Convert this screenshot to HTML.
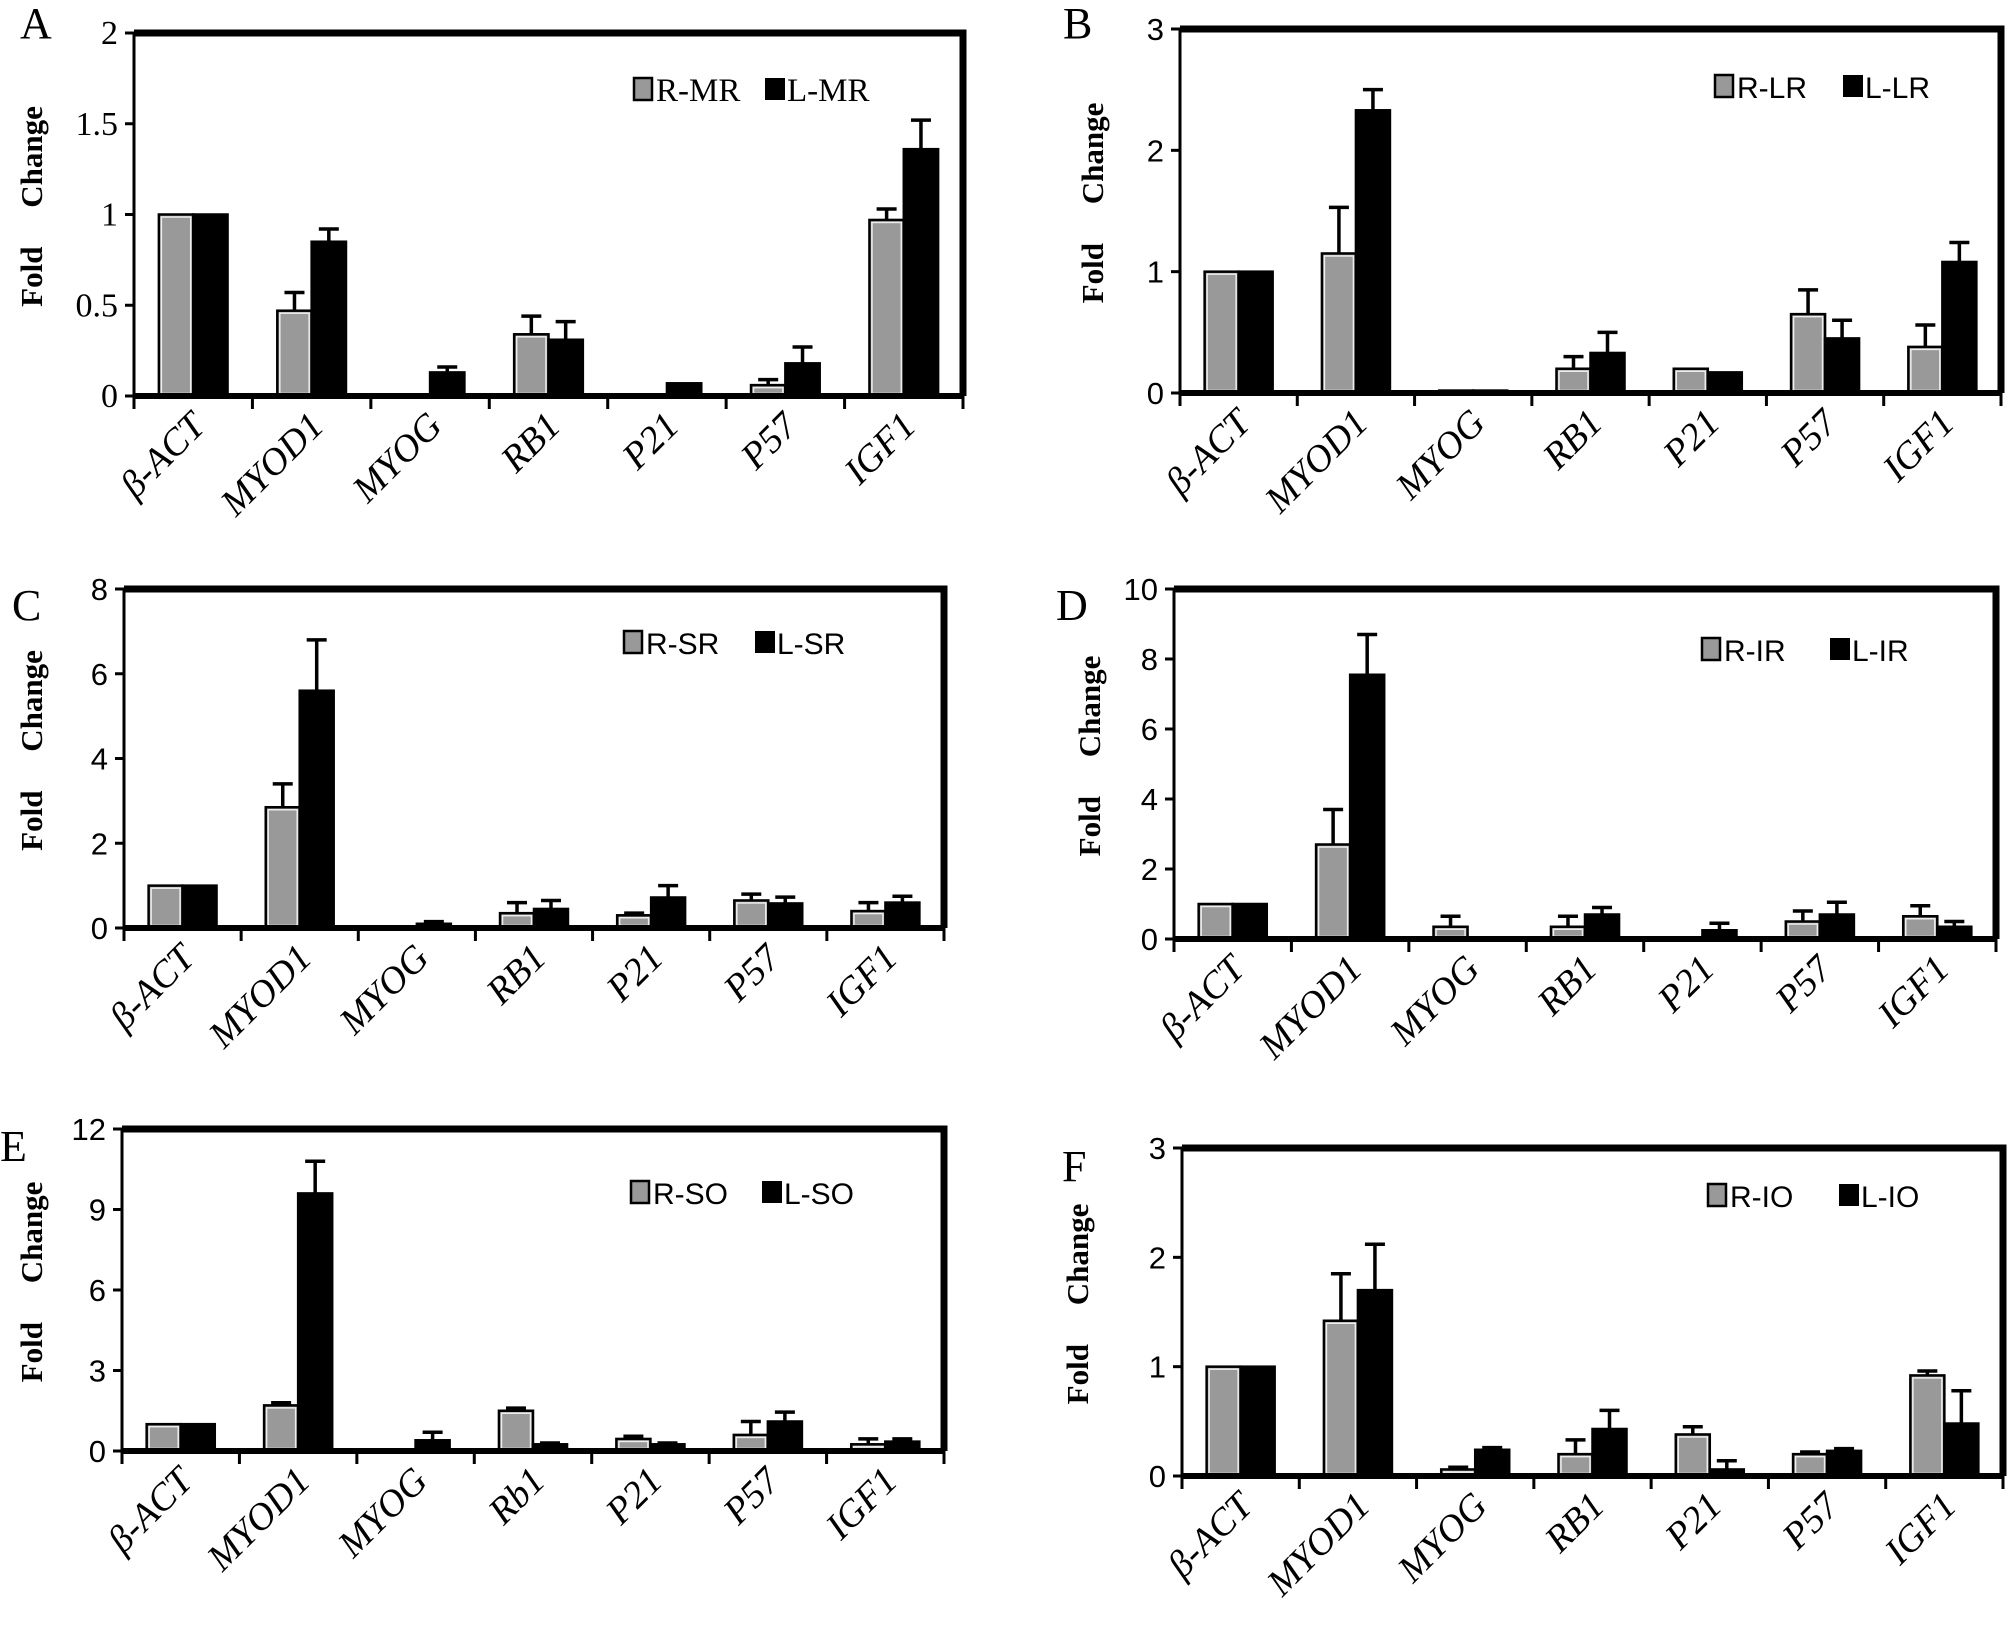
<!DOCTYPE html>
<html><head><meta charset="utf-8"><style>
html,body{margin:0;padding:0;background:#fff;}
svg{display:block;}
text{fill:#000;}
</style></head>
<body>
<svg id="fig" width="2008" height="1625" viewBox="0 0 2008 1625" xmlns="http://www.w3.org/2000/svg"></svg>
<script>
const catsStd = ["β-ACT","MYOD1","MYOG","RB1","P21","P57","IGF1"];
const catsE = ["β-ACT","MYOD1","MYOG","Rb1","P21","P57","IGF1"];
const grayA = [1,0.47,0,0.34,0,0.06,0.97];
const blackA = [1,0.85,0.13,0.31,0.07,0.18,1.36];
const gErrA = [0,0.1,0,0.1,0,0.03,0.06];
const bErrA = [0,0.07,0.03,0.1,0,0.09,0.16];
const grayB = [1,1.15,0.02,0.2,0.2,0.65,0.38];
const blackB = [1,2.33,0.02,0.33,0.17,0.45,1.08];
const gErrB = [0,0.38,0,0.1,0,0.2,0.18];
const bErrB = [0,0.17,0,0.17,0,0.15,0.16];
const grayC = [1,2.85,0,0.35,0.3,0.65,0.4];
const blackC = [1,5.6,0.1,0.45,0.72,0.58,0.6];
const gErrC = [0,0.55,0,0.25,0.05,0.15,0.2];
const bErrC = [0,1.2,0.05,0.2,0.28,0.15,0.15];
const grayD = [1,2.7,0.35,0.35,0.05,0.5,0.65];
const blackD = [1,7.55,0,0.7,0.25,0.7,0.35];
const gErrD = [0,1,0.3,0.3,0,0.3,0.3];
const bErrD = [0,1.15,0,0.2,0.2,0.35,0.15];
const grayE = [1,1.7,0,1.5,0.45,0.6,0.25];
const blackE = [1,9.6,0.4,0.25,0.25,1.1,0.35];
const gErrE = [0,0.1,0,0.1,0.1,0.5,0.2];
const bErrE = [0,1.2,0.3,0.05,0.05,0.35,0.1];
const grayF = [1,1.42,0.06,0.2,0.38,0.2,0.92];
const blackF = [1,1.7,0.24,0.43,0.06,0.23,0.48];
const gErrF = [0,0.43,0.02,0.13,0.07,0.02,0.04];
const bErrF = [0,0.42,0.02,0.17,0.08,0.02,0.3];
const ticksA = ["0","0.5","1","1.5","2"];
const ticksB = ["0","1","2","3"];
const ticksC = ["0","2","4","6","8"];
const ticksD = ["0","2","4","6","8","10"];
const ticksE = ["0","3","6","9","12"];
const ticksF = ["0","1","2","3"];

const NS = "http://www.w3.org/2000/svg";
const svg = document.getElementById("fig");
function mk(tag, attrs, parent){
  const e = document.createElementNS(NS, tag);
  for (const k in attrs) e.setAttribute(k, attrs[k]);
  (parent||svg).appendChild(e);
  return e;
}
const SERIF = '"Liberation Serif", serif';
const SANS = '"Liberation Sans", sans-serif';

const panels = [
 {id:"a",letter:"A",lx:20,ly:38,tx:42,l:134,r:963,t:33,b:396,ticks:ticksA,cats:catsStd,g:grayA,k:blackA,ge:gErrA,ke:bErrA,leg:["R-MR","L-MR"],legx:634,legbx:765,legy:89,serifTicks:true},
 {id:"b",letter:"B",lx:1063,ly:38,tx:1103,l:1180,r:2001,t:29,b:393,ticks:ticksB,cats:catsStd,g:grayB,k:blackB,ge:gErrB,ke:bErrB,leg:["R-LR","L-LR"],legx:1715,legbx:1843,legy:86},
 {id:"c",letter:"C",lx:12,ly:620,tx:42,l:124,r:944,t:589,b:928,ticks:ticksC,cats:catsStd,g:grayC,k:blackC,ge:gErrC,ke:bErrC,leg:["R-SR","L-SR"],legx:624,legbx:755,legy:642},
 {id:"d",letter:"D",lx:1056,ly:620,tx:1100,l:1174,r:1996,t:589,b:939,ticks:ticksD,cats:catsStd,g:grayD,k:blackD,ge:gErrD,ke:bErrD,leg:["R-IR","L-IR"],legx:1702,legbx:1830,legy:649},
 {id:"e",letter:"E",lx:0,ly:1161,tx:42,l:122,r:944,t:1129,b:1451,ticks:ticksE,cats:catsE,g:grayE,k:blackE,ge:gErrE,ke:bErrE,leg:["R-SO","L-SO"],legx:631,legbx:762,legy:1192},
 {id:"f",letter:"F",lx:1062,ly:1181,tx:1088,l:1182,r:2003,t:1148,b:1476,ticks:ticksF,cats:catsStd,g:grayF,k:blackF,ge:gErrF,ke:bErrF,leg:["R-IO","L-IO"],legx:1708,legbx:1839,legy:1195}
];

panels.forEach(p=>{
  const G = mk("g",{});
  
  
  const ymax = parseFloat(p.ticks[p.ticks.length-1]);
  const y = v => p.b - (v/ymax)*(p.b-p.t);
  const n = p.cats.length;
  const step = (p.r-p.l)/n;
  const x = i => p.l + step*i;
  const tf = p.serifTicks ? SERIF : SANS;

  const lt = mk("text",{x:p.lx,y:p.ly,"font-size":44,"font-family":SERIF},G);
  lt.textContent = p.letter;
  
  

  const ya = mk("line",{x1:p.l,y1:p.t,x2:p.l,y2:p.b,stroke:"#000","stroke-width":3},G);
  
  

  p.ticks.forEach(tv=>{
    const v = parseFloat(tv);
    mk("line",{x1:p.l-9,y1:y(v),x2:p.l,y2:y(v),stroke:"#000","stroke-width":3},G);
    const tt = mk("text",{x:p.l-16,y:y(v)+11,"font-size":p.serifTicks?34:31,"font-family":tf,"text-anchor":"end"},G);
    tt.textContent = tv;
    
    
  });

  const cy = (p.t+p.b)/2 - 8;
  const yt = mk("text",{x:0,y:0,"font-size":31,"font-weight":"bold","font-family":SERIF,"text-anchor":"middle",transform:`translate(${p.tx},${cy}) rotate(-90)`},G);
  yt.textContent = "Fold\u00a0\u00a0\u00a0\u00a0\u00a0Change";
  
  

  const bw = step*0.29;
  for (let i=0;i<n;i++){
    const c = x(i)+step/2;
    [[p.g,p.ge,"#999",-1,"gray"],[p.k,p.ke,"#000",0,"black"]].forEach(s=>{
      const v = s[0][i], e = s[1][i];
      const bx = c + s[3]*bw;
      if (e>0){
        const ex = bx+bw/2;
        const er = mk("path",{d:`M${ex} ${y(v)} L${ex} ${y(v+e)} M${ex-10} ${y(v+e)} L${ex+10} ${y(v+e)}`,stroke:"#000","stroke-width":3.5,fill:"none"},G);
        
        
      }
      if (v>0){
        const rc = mk("rect",{x:bx,y:y(v),width:bw,height:p.b-y(v),fill:s[2],stroke:"#000","stroke-width":2.5},G);
        
        
        if (s[4]==="gray" && bw>8 && p.b-y(v)>6){
          mk("rect",{x:bx+2.5,y:y(v)+2.5,width:bw-5,height:Math.max(0,p.b-y(v)-5),fill:"none",stroke:"#eee","stroke-width":1.5},G);
        }
      }
    });
  }

  const fr = mk("path",{d:`M${p.l} ${p.t} L${p.r} ${p.t} L${p.r} ${p.b}`,fill:"none",stroke:"#000","stroke-width":7},G);
  
  
  const xa = mk("line",{x1:p.l,y1:p.b,x2:p.r,y2:p.b,stroke:"#000","stroke-width":6},G);
  
  
  for (let i=0;i<=n;i++){
    mk("line",{x1:x(i),y1:p.b,x2:x(i),y2:p.b+13,stroke:"#000","stroke-width":3},G);
  }
  p.cats.forEach((c,i)=>{
    const cx = x(i)+step/2+14, ty = p.b+32;
    const t = mk("text",{x:0,y:0,"font-size":38,"font-family":SERIF,"font-style":"italic","text-anchor":"end",transform:`translate(${cx},${ty}) rotate(-45)`},G);
    t.textContent = c;
    
    
  });

  const lg = mk("g",{},G);
  
  
  mk("rect",{x:p.legx,y:p.legy-11,width:18,height:22,fill:"#999",stroke:"#000","stroke-width":2.5},lg);
  const l1 = mk("text",{x:p.legx+22,y:p.legy+12,"font-size":p.serifTicks?33:30,"font-family":tf},lg);
  l1.textContent = p.leg[0];
  mk("rect",{x:p.legbx,y:p.legy-11,width:20,height:22,fill:"#000"},lg);
  const l2 = mk("text",{x:p.legbx+22,y:p.legy+12,"font-size":p.serifTicks?33:30,"font-family":tf},lg);
  l2.textContent = p.leg[1];
});
</script>
</body></html>
